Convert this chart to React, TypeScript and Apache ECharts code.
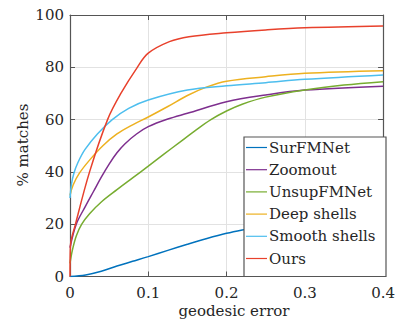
import React, { useEffect, useRef } from "react";
import * as echarts from "echarts";

const seriesNames = ["SurFMNet", "Zoomout", "UnsupFMNet", "Deep shells", "Smooth shells", "Ours"];
const seriesColors = ["#0072BD", "#7E2F8E", "#77AC30", "#EDB120", "#4DBEEE", "#E8412C"];

const surfmnet: number[][] = [[0,0],[0.02,0.6],[0.04,2],[0.06,4],[0.08,5.8],[0.1,7.6],[0.125,10],[0.15,12.3],[0.175,14.5],[0.2,16.5],[0.22,17.8],[0.25,19.5],[0.3,22.2],[0.35,24.7],[0.4,27]];
const zoomout: number[][] = [[0,11],[0.008,20],[0.02,27],[0.03,32.5],[0.04,38],[0.05,43],[0.06,47.3],[0.07,50.7],[0.085,54.5],[0.1,57.3],[0.125,60.2],[0.15,62.4],[0.2,66.8],[0.25,69.4],[0.3,71.3],[0.4,72.8]];
const unsupfmnet: number[][] = [[0,5],[0.003,10],[0.008,15.5],[0.015,20],[0.025,24],[0.04,28.5],[0.06,33.2],[0.08,37.7],[0.1,42.2],[0.12,46.8],[0.14,51.3],[0.16,55.8],[0.18,60],[0.2,63.3],[0.22,65.9],[0.25,68.6],[0.3,71.3],[0.35,73.2],[0.4,74.5]];
const deepShells: number[][] = [[0,31],[0.004,35],[0.012,39.5],[0.025,44.5],[0.042,50],[0.06,54.5],[0.08,58],[0.1,61],[0.125,65],[0.15,69.2],[0.175,72.5],[0.2,74.7],[0.25,76.4],[0.3,77.7],[0.4,78.7]];
const smoothShells: number[][] = [[0,30],[0.002,35.5],[0.005,39.5],[0.01,43.5],[0.019,48.5],[0.035,54.5],[0.054,60],[0.075,64.3],[0.1,67.5],[0.15,71.3],[0.2,72.9],[0.25,74.1],[0.3,75.4],[0.4,77.1]];
const ours: number[][] = [[0,0],[0.0005,11.5],[0.007,20],[0.025,40],[0.048,60],[0.065,70],[0.086,80],[0.1,85.4],[0.127,89.8],[0.152,91.7],[0.2,93.2],[0.25,94.3],[0.3,95.1],[0.4,95.8]];

const seriesData = [surfmnet, zoomout, unsupfmnet, deepShells, smoothShells, ours];

const xTickLabels: Record<string, string> = { "0": "0", "0.1": "0.1", "0.2": "0.2", "0.3": "0.3", "0.4": "0.4" };

const FONT = "DejaVu Serif";
const TEXT = "#262626";
const AXIS = "#555555";
const GRID = "#e2e2e2";

export default function App() {
  const ref = useRef<HTMLDivElement>(null);
  useEffect(() => {
    if (!ref.current) return;
    const chart = echarts.init(ref.current, undefined, { renderer: "svg" });
    const grid = { left: 70, right: 12, top: 15, bottom: 47.5 };
    const tickStyle = { show: true, inside: true, length: 5, lineStyle: { color: AXIS, width: 1 } };
    chart.setOption({
      animation: false,
      backgroundColor: "#ffffff",
      grid,
      xAxis: [
        {
          type: "value", min: 0, max: 0.4, interval: 0.1, position: "bottom",
          axisLine: { show: true, onZero: false, lineStyle: { color: AXIS, width: 1.2 } },
          axisTick: tickStyle,
          axisLabel: { margin: 9, fontFamily: FONT, fontSize: 15, color: TEXT, formatter: (v: number) => xTickLabels[String(+v.toFixed(2))] ?? String(v) },
          splitLine: { show: true, lineStyle: { color: GRID, width: 1 } },
        },
        {
          type: "value", min: 0, max: 0.4, interval: 0.1, position: "top",
          axisLine: { show: true, onZero: false, lineStyle: { color: AXIS, width: 1.2 } },
          axisTick: tickStyle, axisLabel: { show: false }, splitLine: { show: false },
        },
      ],
      yAxis: [
        {
          type: "value", min: 0, max: 100, interval: 20, position: "left",
          axisLine: { show: true, onZero: false, lineStyle: { color: AXIS, width: 1.2 } },
          axisTick: tickStyle,
          axisLabel: { margin: 6, fontFamily: FONT, fontSize: 15, color: TEXT },
          splitLine: { show: true, lineStyle: { color: GRID, width: 1 } },
        },
        {
          type: "value", min: 0, max: 100, interval: 20, position: "right",
          axisLine: { show: true, onZero: false, lineStyle: { color: AXIS, width: 1.2 } },
          axisTick: tickStyle, axisLabel: { show: false }, splitLine: { show: false },
        },
      ],
      legend: {
        orient: "vertical",
        left: 246,
        top: 140,
        padding: 0,
        itemWidth: 21,
        itemHeight: 14,
        itemGap: 7.2,
        data: seriesNames.map((n) => ({ name: n, icon: "path://M0,6.4 L21,6.4 L21,7.6 L0,7.6 Z" })),
        textStyle: { fontFamily: FONT, fontSize: 15, color: TEXT, padding: [0, 0, 0, -3] },
        z: 10,
      },
      graphic: [
        {
          type: "rect", z: 5,
          shape: { x: 244, y: 137, width: 142, height: 139.5 },
          style: { fill: "#ffffff", stroke: AXIS, lineWidth: 1.2 },
        },
        {
          type: "text", x: 234, y: 311,
          style: { text: "geodesic error", fontFamily: FONT, fontSize: 15, fill: TEXT, align: "center", verticalAlign: "middle" },
        },
        {
          type: "text", x: 23, y: 145, rotation: Math.PI / 2,
          style: { text: "% matches", fontFamily: FONT, fontSize: 15, fill: TEXT, align: "center", verticalAlign: "middle" },
        },
      ],
      series: seriesNames.map((name, i) => ({
        name,
        type: "line",
        xAxisIndex: 0,
        yAxisIndex: 0,
        data: seriesData[i],
        symbol: "none",
        smooth: 0.35,
        lineStyle: { color: seriesColors[i], width: 1.5 },
        itemStyle: { color: seriesColors[i] },
        z: 2 + (i === 5 ? 1 : 0),
      })),
    });
    return () => chart.dispose();
  }, []);
  return <div ref={ref} style={{ position: "fixed", left: 0, top: 0, width: 398, height: 324 }} />;
}
